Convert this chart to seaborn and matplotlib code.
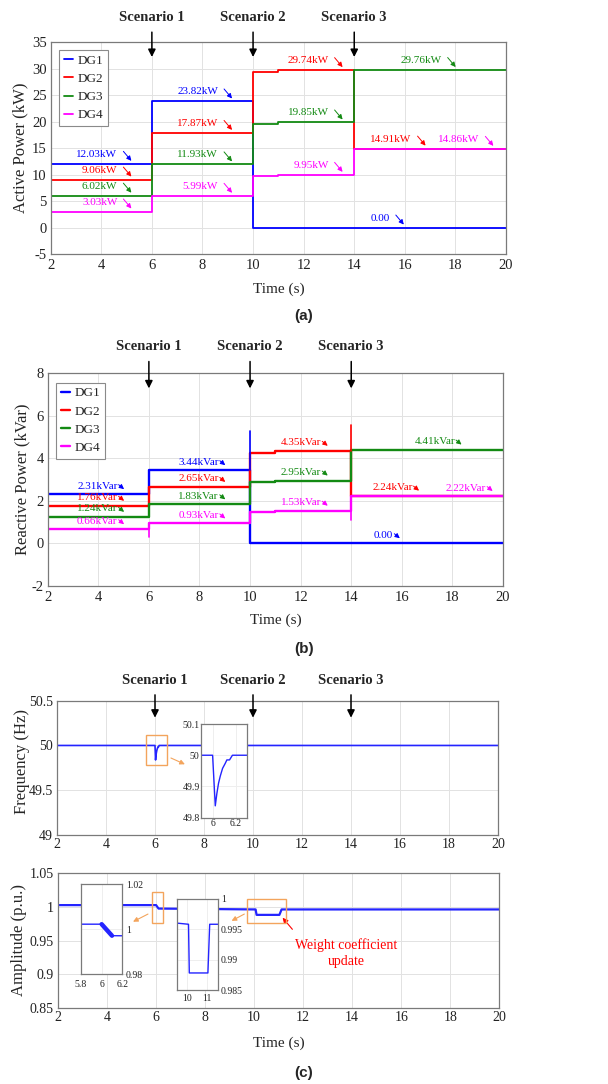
import matplotlib
matplotlib.use("Agg")
import matplotlib.pyplot as plt
import matplotlib.transforms as mtransforms
import seaborn as sns
from matplotlib.patches import Rectangle
from matplotlib.ticker import FuncFormatter

# ---------------- values ----------------
dg_names = ["DG1", "DG2", "DG3", "DG4"]
dg_colors = ["#0000ff", "#ff0000", "#138a13", "#ff00ff"]

# step start times (steps-post); the last entry closes the run at 20 s
step_t = [2, 6, 10, 11, 14, 20]

# (a) active power, kW
p_dg1 = [12.03, 23.82, 0.0, 0.0, 0.0, 0.0]
p_dg2 = [9.06, 17.87, 29.3, 29.74, 14.91, 14.91]
p_dg3 = [6.02, 11.93, 19.5, 19.85, 29.76, 29.76]
p_dg4 = [3.03, 5.99, 9.75, 9.95, 14.86, 14.86]

# call-outs on (a): DG index, value shown, time the small arrow points at
p_note_dg = [0, 1, 2, 3, 0, 1, 2, 3, 1, 2, 3, 0, 2, 1, 3]
p_note_val = [12.03, 9.06, 6.02, 3.03, 23.82, 17.87, 11.93, 5.99,
              29.74, 19.85, 9.95, 0.0, 29.76, 14.91, 14.86]
p_note_t = [5.19, 5.19, 5.19, 5.19, 9.17, 9.17, 9.17, 9.17,
            13.54, 13.54, 13.54, 15.96, 18.01, 16.82, 19.5]

# (b) reactive power, kVar
q_dg1 = [2.31, 3.44, 0.0, 0.0, 0.0, 0.0]
q_dg2 = [1.76, 2.65, 4.25, 4.35, 2.24, 2.24]
q_dg3 = [1.24, 1.83, 2.87, 2.95, 4.38, 4.38]
q_dg4 = [0.66, 0.93, 1.48, 1.53, 2.22, 2.22]

# switching transients on (b): DG index, time, level before, peak
q_spike_dg = [0, 1, 3, 3]
q_spike_t = [10, 14, 6, 14]
q_spike_from = [3.44, 4.35, 0.66, 1.53]
q_spike_to = [5.3, 5.55, 0.3, 1.1]

q_note_dg = [0, 1, 2, 3, 0, 1, 2, 3, 1, 2, 3, 0, 2, 1, 3]
q_note_val = [2.31, 1.76, 1.24, 0.66, 3.44, 2.65, 1.83, 0.93,
              4.35, 2.95, 1.53, 0.0, 4.41, 2.24, 2.22]
q_note_t = [5.02, 5.02, 5.02, 5.02, 9.02, 9.02, 9.02, 9.02,
            13.07, 13.07, 13.07, 15.92, 18.36, 16.68, 19.59]

# (c) frequency, Hz
freq_t = [2, 6.0, 6.023, 6.037, 6.051, 6.066, 6.086, 6.109, 6.123, 6.146, 6.171, 20]
freq_v = [50.0, 50.0, 49.838, 49.878, 49.91, 49.933, 49.958, 49.974, 49.985, 49.985, 50.0, 50.0]

# (c) voltage amplitude, p.u.
amp_t = [2, 6.0, 6.1, 10.06, 10.1, 11.03, 11.12, 20]
amp_v = [1.0022, 1.0022, 0.9971, 0.9958, 0.9878, 0.9878, 0.9958, 0.9958]

scen_labels = ["Scenario 1", "Scenario 2", "Scenario 3"]
scen_t = [6, 10, 14]

# ---------------- styling ----------------
sns.set_theme(style="whitegrid")
plt.rcParams["font.family"] = ["Liberation Serif", "DejaVu Serif"]
plt.rcParams["axes.unicode_minus"] = False

W, H = 608, 1084
fig = plt.figure(figsize=(W / 100, H / 100), dpi=100)
fig.patch.set_facecolor("white")


def px_axes(left, top, right, bottom, z=1):
    ax = fig.add_axes([left / W, 1 - bottom / H, (right - left) / W, (bottom - top) / H])
    ax.set_zorder(z)
    ax.set_facecolor("white")
    return ax


def fmt(v, _):
    return f"{v:g}"


def style(ax, xlim, ylim, xticks, yticks, fs, grid_c="#e2e2e2", xpad=3):
    ax.set_xlim(*xlim)
    ax.set_ylim(*ylim)
    ax.set_xticks(xticks)
    ax.set_yticks(yticks)
    ax.xaxis.set_major_formatter(FuncFormatter(fmt))
    ax.yaxis.set_major_formatter(FuncFormatter(fmt))
    ax.grid(True, color=grid_c, lw=0.7)
    for s in ax.spines.values():
        s.set_color("#7a7a7a")
        s.set_linewidth(0.9)
    ax.tick_params(length=0, labelsize=fs, labelcolor="#222222", pad=3)
    ax.tick_params(axis="x", pad=xpad)
    ax.set_xlabel("")
    ax.set_ylabel("")


def scenarios(ax, tip_y, off):
    for lab, t in zip(scen_labels, scen_t):
        ax.annotate(lab, xy=(t, tip_y), xytext=(0, off), textcoords="offset pixels",
                    ha="center", va="bottom", fontsize=10.5, fontweight="bold",
                    annotation_clip=False,
                    arrowprops=dict(arrowstyle="-|>", color="black", lw=1.1,
                                    relpos=(0.5, 0.0), shrinkA=3.5, shrinkB=0,
                                    mutation_scale=11))


def callouts(ax, dgs, vals, ts, unit, tip_dy, txt_dy, txt_dx, tail, fs):
    for d, v, t in zip(dgs, vals, ts):
        c = dg_colors[d]
        label = f"{v:.2f}{unit}" if v else "0.00"
        tr_tip = mtransforms.offset_copy(ax.transData, fig=fig, x=0, y=tip_dy, units="dots")
        tr_txt = mtransforms.offset_copy(ax.transData, fig=fig, x=-txt_dx, y=txt_dy, units="dots")
        ax.text(t, v, label, transform=tr_txt, ha="right", va="center",
                color=c, fontsize=fs, zorder=5)
        ax.annotate("", xy=(t, v), xycoords=tr_tip, xytext=tail, textcoords="offset pixels",
                    arrowprops=dict(arrowstyle="-|>", color=c, lw=0.7,
                                    shrinkA=0, shrinkB=0, mutation_scale=7))


def legend(ax, anchor):
    lg = ax.legend(loc="upper left", bbox_to_anchor=anchor, borderaxespad=0,
                   fontsize=9.5, handlelength=0.75, handletextpad=0.35,
                   labelspacing=0.45, borderpad=0.35, fancybox=False,
                   framealpha=1, edgecolor="#8a8a8a")
    lg.get_frame().set_linewidth(0.8)


# ---------------- (a) active power ----------------
ax_p = px_axes(50.7, 42.3, 506, 254)
for name, col, vals in zip(dg_names, dg_colors, [p_dg1, p_dg2, p_dg3, p_dg4]):
    sns.lineplot(x=step_t, y=vals, drawstyle="steps-post", estimator=None, sort=False,
                 color=col, lw=1.3, label=name, ax=ax_p)
style(ax_p, (2, 20), (-5, 35), range(2, 21, 2), range(-5, 36, 5), 10.5, xpad=3.5)
ax_p.set_ylabel("Active Power (kW)", fontsize=12, va="center")
ax_p.yaxis.set_label_coords(-0.067, 0.5)
ax_p.set_xlabel("Time (s)", fontsize=11, va="center")
ax_p.xaxis.set_label_coords(0.5, -0.167)
legend(ax_p, (0.018, 0.964))
callouts(ax_p, p_note_dg, p_note_val, p_note_t, "kW", 3, 9.5, 14, (-8, 9.5), 8)
scenarios(ax_p, 32.22, 33)
fig.text(0.5, 1 - 316 / H, "(a)", ha="center", va="center", fontsize=11,
         fontweight="bold", family="Liberation Sans")

# ---------------- (b) reactive power ----------------
ax_q = px_axes(47.7, 373.3, 503, 585.7)
for name, col, vals in zip(dg_names, dg_colors, [q_dg1, q_dg2, q_dg3, q_dg4]):
    sns.lineplot(x=step_t, y=vals, drawstyle="steps-post", estimator=None, sort=False,
                 color=col, lw=1.7, label=name, ax=ax_q)
for d, t, a, b in zip(q_spike_dg, q_spike_t, q_spike_from, q_spike_to):
    sns.lineplot(x=[t, t], y=[a, b], estimator=None, sort=False,
                 color=dg_colors[d], lw=1.2, ax=ax_q)
style(ax_q, (2, 20), (-2, 8), range(2, 21, 2), range(-2, 9, 2), 10.5, xpad=3.5)
ax_q.set_ylabel("Reactive Power (kVar)", fontsize=12, va="center")
ax_q.yaxis.set_label_coords(-0.055, 0.5)
ax_q.set_xlabel("Time (s)", fontsize=11, va="center")
ax_q.xaxis.set_label_coords(0.5, -0.164)
legend(ax_q, (0.018, 0.956))
callouts(ax_q, q_note_dg, q_note_val, q_note_t, "kVar", 5, 8, 6.5, (-5.5, 4.5), 8)
scenarios(ax_q, 7.29, 35)
fig.text(0.5, 1 - 649 / H, "(b)", ha="center", va="center", fontsize=11,
         fontweight="bold", family="Liberation Sans")

# ---------------- (c) frequency ----------------
orange = "#f3a45c"
line_c = "#2424ff"
ax_f = px_axes(57, 700.7, 498, 835)
sns.lineplot(x=freq_t, y=freq_v, estimator=None, sort=False, color=line_c, lw=1.2, ax=ax_f)
style(ax_f, (2, 20), (49, 50.5), range(2, 21, 2), [49, 49.5, 50, 50.5], 10, xpad=2)
ax_f.set_ylabel("Frequency (Hz)", fontsize=12, va="center")
ax_f.yaxis.set_label_coords(-0.08, 0.545)
ax_f.add_patch(Rectangle((5.62, 49.78), 0.86, 0.34, fill=False, ec=orange, lw=1.0, zorder=4))
ax_f.annotate("", xy=(7.22, 49.79), xytext=(6.65, 49.86),
              arrowprops=dict(arrowstyle="-|>", color=orange, lw=0.8,
                              shrinkA=0, shrinkB=0, mutation_scale=7))
scenarios(ax_f, 50.31, 31)

ins_f = px_axes(201, 724, 246.7, 817.7, z=3)
sns.lineplot(x=freq_t, y=freq_v, estimator=None, sort=False, color=line_c, lw=1.0, ax=ins_f)
style(ins_f, (5.9, 6.294), (49.8, 50.1), [6, 6.2], [49.8, 49.9, 50, 50.1], 7,
      grid_c="#eeeeee", xpad=1)
ins_f.tick_params(axis="y", pad=1)

# ---------------- (c) amplitude ----------------
ax_a = px_axes(58, 872.7, 499.3, 1008.3)
sns.lineplot(x=amp_t, y=amp_v, estimator=None, sort=False, color=line_c, lw=1.6, ax=ax_a)
style(ax_a, (2, 20), (0.85, 1.05), range(2, 21, 2), [0.85, 0.9, 0.95, 1, 1.05], 10, xpad=2)
ax_a.set_ylabel("Amplitude (p.u.)", fontsize=12, va="center")
ax_a.yaxis.set_label_coords(-0.0877, 0.504)
ax_a.set_xlabel("Time (s)", fontsize=11, va="center")
ax_a.xaxis.set_label_coords(0.5, -0.258)
ax_a.add_patch(Rectangle((5.82, 0.976), 0.47, 0.046, fill=False, ec=orange, lw=1.0, zorder=4))
ax_a.add_patch(Rectangle((9.72, 0.976), 1.59, 0.0348, fill=False, ec=orange, lw=1.0, zorder=4))
for tail, tip in [((5.67, 0.989), (5.06, 0.9777)), ((9.60, 0.989), (9.08, 0.979))]:
    ax_a.annotate("", xy=tip, xytext=tail,
                  arrowprops=dict(arrowstyle="-|>", color=orange, lw=0.8,
                                  shrinkA=0, shrinkB=0, mutation_scale=7))
ax_a.annotate("", xy=(11.16, 0.9836), xytext=(11.56, 0.9665),
              arrowprops=dict(arrowstyle="-|>", color="red", lw=0.8,
                              shrinkA=0, shrinkB=0, mutation_scale=8))
ax_a.text(13.77, 0.9316, "Weight coefficient\nupdate", ha="center", va="center",
          color="red", fontsize=10, linespacing=1.25)

ins_a1 = px_axes(81, 884, 122.3, 974.3, z=3)
sns.lineplot(x=amp_t, y=amp_v, estimator=None, sort=False, color=line_c, lw=1.0, ax=ins_a1)
# the drop after 6 s is a thick, noisy band in the original
sns.lineplot(x=amp_t[1:3], y=amp_v[1:3], estimator=None, sort=False, color=line_c,
             lw=3.2, ax=ins_a1)
style(ins_a1, (5.8, 6.2), (0.98, 1.02), [5.8, 6, 6.2], [0.98, 1, 1.02], 7,
      grid_c="#eeeeee", xpad=4)
ins_a1.yaxis.tick_right()
ins_a1.tick_params(axis="y", pad=2.5)

ins_a2 = px_axes(176.7, 898.7, 218.3, 990, z=3)
sns.lineplot(x=amp_t, y=amp_v, estimator=None, sort=False, color=line_c, lw=1.0, ax=ins_a2)
style(ins_a2, (9.47, 11.55), (0.985, 1.0), [10, 11], [0.985, 0.99, 0.995, 1], 7,
      grid_c="#eeeeee", xpad=3)
ins_a2.yaxis.tick_right()
ins_a2.tick_params(axis="y", pad=2)

fig.text(0.5, 1 - 1073 / H, "(c)", ha="center", va="center", fontsize=11,
         fontweight="bold", family="Liberation Sans")

fig.savefig("out.png", dpi=100, facecolor="white")
